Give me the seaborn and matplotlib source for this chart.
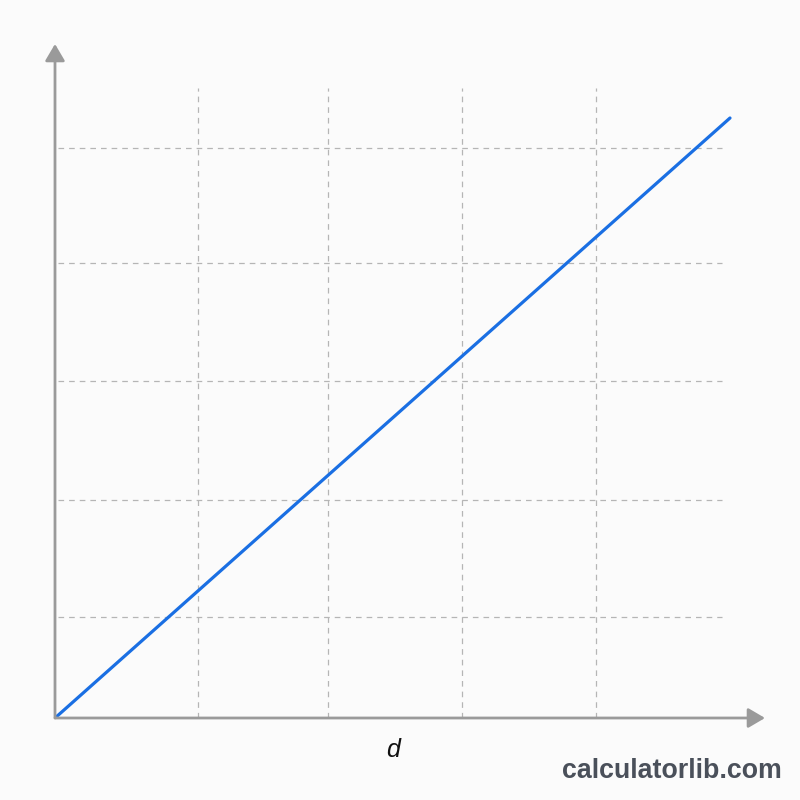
import numpy as np
import pandas as pd
import seaborn as sns
import matplotlib.pyplot as plt

# datos de la recta (distancia d frente a la magnitud), en unidades del gráfico
d_values = [0, 675]
y_values = [0, 600]

# posiciones de la rejilla
grid_x = [143, 273, 407, 541]
grid_y = [101, 218, 337, 455, 570]

sns.set_theme(style="white")
plt.rcParams['font.family'] = ['Liberation Sans', 'DejaVu Sans']

fig = plt.figure(figsize=(8, 8), dpi=100)
fig.patch.set_facecolor('#fbfbfb')
ax = fig.add_axes([55 / 800, (800 - 718) / 800, 710 / 800, 674 / 800])
ax.set_facecolor('#fbfbfb')
ax.set_xlim(0, 710)
ax.set_ylim(0, 674)

# rejilla discontinua
ax.vlines(grid_x, 0, 630, colors='#b5b5b5', linestyles=(0, (4.5, 4)), linewidth=0.9)
ax.hlines(grid_y, 3, 667, colors='#b5b5b5', linestyles=(0, (4.5, 4)), linewidth=0.9)

df = pd.DataFrame({'d': d_values, 'y': y_values})
sns.lineplot(data=df, x='d', y='y', ax=ax, color='#1a6fe3', linewidth=2.3)

# ejes con flecha
for s in ax.spines.values():
    s.set_visible(False)
arrow = dict(arrowstyle='-|>,head_length=0.85,head_width=0.5', color='#9a9a9a', lw=2.0,
             shrinkA=0, shrinkB=0)
ax.annotate('', xy=(710, 0), xytext=(0, 0), arrowprops=arrow, annotation_clip=False)
ax.annotate('', xy=(0, 674), xytext=(0, 0), arrowprops=arrow, annotation_clip=False)

ax.set_xticks([])
ax.set_yticks([])
ax.set_xlabel('')
ax.set_ylabel('')

fig.text(393 / 800, 1 - 750 / 800, 'd', fontsize=18, style='italic', ha='center', va='center',
         color='#111111')
fig.text(672 / 800, 1 - 771 / 800, 'calculatorlib.com', fontsize=19.3, fontweight='bold',
         ha='center', va='center', color='#4a505a')

fig.savefig('out.png', dpi=100, facecolor=fig.get_facecolor())
